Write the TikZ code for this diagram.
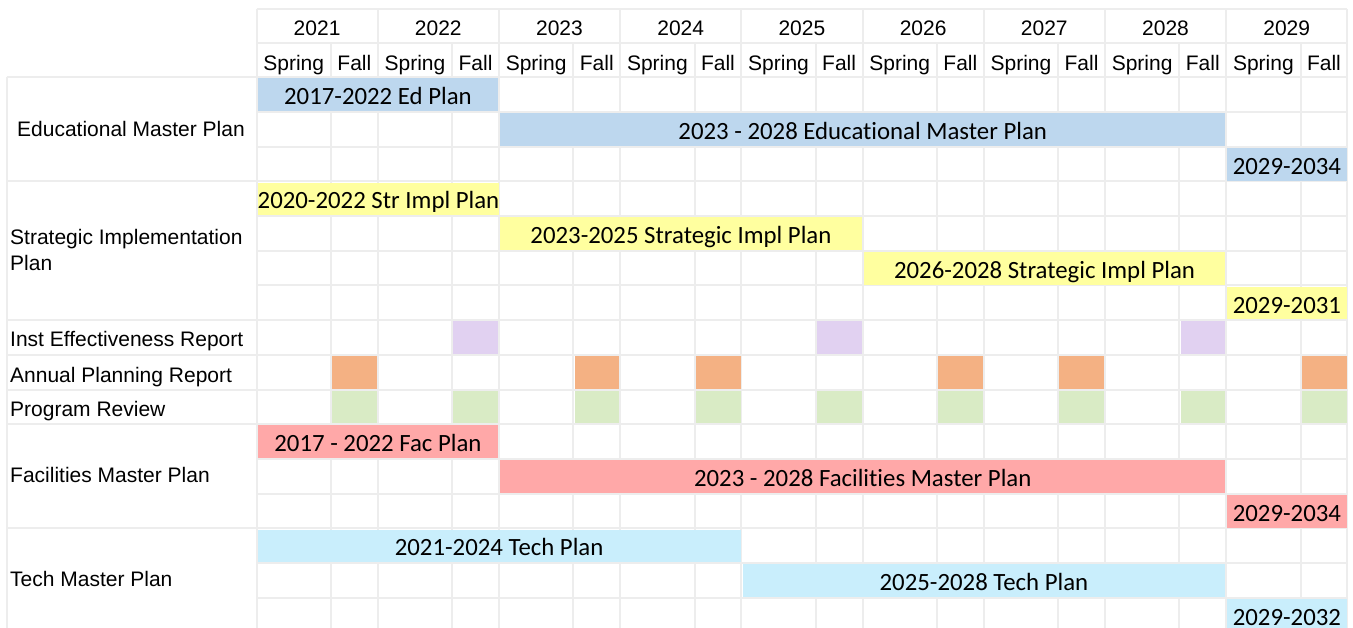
\documentclass[tikz,border=0pt]{standalone}
\usepackage{fontspec}
\setmainfont{Liberation Sans}
\newfontfamily\calibrifont[Ligatures=NoCommon]{Carlito}
\usetikzlibrary{positioning}

\definecolor{gridgray}{HTML}{EDEDED}
\definecolor{edblue}{HTML}{BDD7EE}
\definecolor{stryellow}{HTML}{FFFF9F}
\definecolor{iepurple}{HTML}{E1D1F1}
\definecolor{aprorange}{HTML}{F4B183}
\definecolor{prgreen}{HTML}{D9EBC5}
\definecolor{facpink}{HTML}{FFA8A8}
\definecolor{techcyan}{HTML}{C9EEFC}

\begin{document}
\begin{tikzpicture}[
    x=1pt, y=-1pt,
    gridline/.style={draw=gridgray, line width=2pt},
    header/.style={font=\fontsize{21}{25}\selectfont, inner sep=0pt, text height=15pt, text depth=0pt},
    rowtitle/.style={font=\fontsize{21}{26.6}\selectfont, inner sep=0pt, anchor=west, align=left},
    oneline/.style={text height=15pt, text depth=0pt},
    planbar/.style={rectangle, inner sep=0pt, anchor=north west, minimum height=32.7pt,
        text height=20pt, text depth=0pt, font=\calibrifont\fontsize{24.8}{28}\selectfont},
    semcell/.style={rectangle, inner sep=0pt, anchor=north west, minimum height=32.7pt, minimum width=44.7pt}
]
\useasboundingbox (0,0) rectangle (1353,628);
\clip (0,0) rectangle (1353,628);

% Grid
\foreach \i in {0,...,8} {
    \draw[gridline] ({256.5+121.2*\i},9.3) -- ({256.5+121.2*\i},632.5);
    \draw[gridline] ({331+121.2*\i},43.3) -- ({331+121.2*\i},632.5);
}
\draw[gridline] (1347.3,9.3) -- (1347.3,632.5);
\draw[gridline] (256.5,9.3) -- (1347.3,9.3);
\draw[gridline] (256.5,43.3) -- (1347.3,43.3);
\foreach \k in {0,...,16}
    \draw[gridline] (256.5,{77.3+34.7*\k}) -- (1347.3,{77.3+34.7*\k});
\draw[gridline] (6.5,77.3) -- (6.5,632.5);
\foreach \yy in {77.3,181.4,320.2,354.9,389.6,424.3,528.4}
    \draw[gridline] (6.5,\yy) -- (256.5,\yy);

% Header
\foreach \yr [count=\i from 0] in {2021,...,2029} {
    \node[header] (yr-\yr) at ({317.1+121.2*\i},27.8) {\yr};
    \node[header] (spring-\yr) at ({293.75+121.2*\i},62.8) {Spring};
    \node[header] (fall-\yr) at ({354.35+121.2*\i},62.8) {Fall};
}

% Row titles
\node[rowtitle, oneline, anchor=center] (title-ed) at (131,129.2) {Educational Master Plan};
\node[rowtitle] (title-str) at (10,250) {Strategic Implementation\\Plan};
\node[rowtitle, oneline] (title-ie) at (10,339) {Inst Effectiveness Report};
\node[rowtitle, oneline] (title-apr) at (10,374.8) {Annual Planning Report};
\node[rowtitle, oneline] (title-pr) at (10,409.2) {Program Review};
\node[rowtitle, oneline] (title-fac) at (10,474.7) {Facilities Master Plan};
\node[rowtitle, oneline] (title-tech) at (10,579.2) {Tech Master Plan};

% Plan bars
\node[planbar, fill=edblue, minimum width=240.4pt] (ed-old) at (257.5,78.3) {2017-2022 Ed Plan};
\node[planbar, fill=edblue, minimum width=725.2pt] (ed-main) at (499.9,113.0) {2023 - 2028 Educational Master Plan};
\node[planbar, fill=edblue, minimum width=119.2pt] (ed-next) at (1227.1,147.7) {2029-2034};

\node[planbar, fill=stryellow, minimum width=240.4pt] (str-old) at (257.5,182.4) {2020-2022 Str Impl Plan};
\node[planbar, fill=stryellow, minimum width=361.6pt] (str-a) at (499.9,217.1) {2023-2025 Strategic Impl Plan};
\node[planbar, fill=stryellow, minimum width=361.6pt] (str-b) at (863.5,251.8) {2026-2028 Strategic Impl Plan};
\node[planbar, fill=stryellow, minimum width=119.2pt] (str-next) at (1227.1,286.5) {2029-2031};

\node[planbar, fill=facpink, minimum width=240.4pt] (fac-old) at (257.5,425.3) {2017 - 2022 Fac Plan};
\node[planbar, fill=facpink, minimum width=725.2pt] (fac-main) at (499.9,460.0) {2023 - 2028 Facilities Master Plan};
\node[planbar, fill=facpink, minimum width=119.2pt] (fac-next) at (1227.1,494.7) {2029-2034};

\node[planbar, fill=techcyan, minimum width=482.8pt] (tech-a) at (257.5,529.4) {2021-2024 Tech Plan};
\node[planbar, fill=techcyan, minimum width=482.8pt] (tech-b) at (742.3,564.1) {2025-2028 Tech Plan};
\node[planbar, fill=techcyan, minimum width=119.2pt] (tech-next) at (1227.1,598.8) {2029-2032};

% Fall semester reports
\foreach \i in {1,4,7}
    \node[semcell, fill=iepurple] (ie-\i) at ({332+121.2*\i},321.2) {};
\foreach \i in {0,2,3,5,6,8}
    \node[semcell, fill=aprorange] (apr-\i) at ({332+121.2*\i},355.9) {};
\foreach \i in {0,...,8}
    \node[semcell, fill=prgreen] (pr-\i) at ({332+121.2*\i},390.6) {};
\end{tikzpicture}
\end{document}
